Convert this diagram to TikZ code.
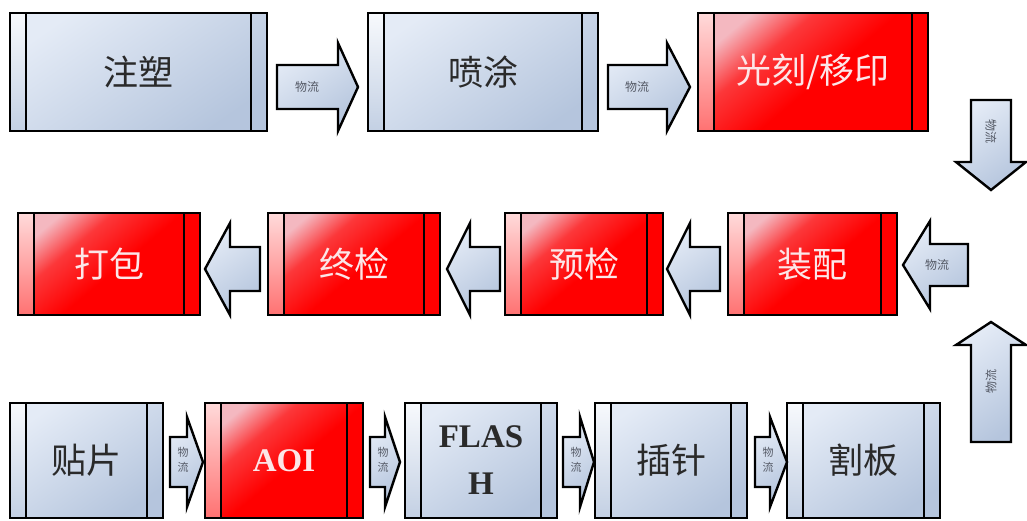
\documentclass[tikz,border=0pt]{standalone}
\usepackage{fontspec}
\newfontfamily\cjk{Noto Sans CJK SC}
\newfontfamily\tnr{Liberation Serif}
\definecolor{bluelt}{HTML}{E4EBF6}
\definecolor{bluedk}{HTML}{B5C5DD}
\definecolor{redlt}{HTML}{F4B8C0}
\definecolor{redtxt}{HTML}{FCE6E8}
\definecolor{darktxt}{HTML}{2A2A2A}
\definecolor{arrtxt}{HTML}{555A66}
\pgfdeclareverticalshading{redsh}{100bp}{color(0bp)=(red); color(25bp)=(red); color(47bp)=(red); color(63bp)=(red!70!redlt); color(75bp)=(redlt); color(100bp)=(redlt)}
\tikzset{
  ln/.style={line width=2.4pt, black},
  bluebox/.style={draw=black, line width=2.4pt, outer sep=0pt, inner sep=0pt,
     top color=bluelt, bottom color=bluedk, shading angle=35,
     font=\cjk\fontsize{35}{40}\selectfont, text=darktxt},
  redbox/.style={draw=black, line width=2.4pt, outer sep=0pt, inner sep=0pt,
     shade, shading=redsh, shading angle=40,
     font=\cjk\fontsize{35}{40}\selectfont, text=redtxt},
  bluebox strip/.style={top color=white!70!bluelt, bottom color=bluedk!80!white},
  redbox strip/.style={top color=red!15!white, bottom color=red!55!white},
  blockarrow/.style={draw=black, line width=2.4pt, line join=miter,
     top color=bluelt, bottom color=bluedk, shading angle=35},
  arrlabel/.style={font=\cjk\fontsize{12}{13}\selectfont, text=arrtxt, inner sep=0pt},
}
% process box: #1 name, #2 style, #3 x1, #4 y1, #5 x2, #6 y2, #7 text
\newcommand\pbox[7]{%
  \node[#2, minimum width={#5-#3}, minimum height={#6-#4}] (#1) at ({(#3+#5)/2},{(#4+#6)/2}) {#7};
  \path[#2 strip] ([shift={(1.2pt,-1.2pt)}]#1.north west) rectangle ([shift={(16pt,1.2pt)}]#1.south west);
  \draw[ln] ([xshift=16pt]#1.north west) -- ([xshift=16pt]#1.south west);
  \draw[ln] ([xshift=-16pt]#1.north east) -- ([xshift=-16pt]#1.south east);
}
% horizontal block arrow: #1 x-tail, #2 x-headbase, #3 x-tip, #4 yc, #5 body half, #6 head half
\newcommand\harrow[6]{%
  \path[blockarrow] (#1,{#4-#5}) -- (#2,{#4-#5}) -- (#2,{#4-#6}) -- (#3,#4)
     -- (#2,{#4+#6}) -- (#2,{#4+#5}) -- (#1,{#4+#5}) -- cycle;
}
% vertical block arrow: #1 y-tail, #2 y-headbase, #3 y-tip, #4 xc, #5 body half, #6 head half
\newcommand\varrow[6]{%
  \path[blockarrow] ({#4-#5},#1) -- ({#4-#5},#2) -- ({#4-#6},#2) -- (#4,#3)
     -- ({#4+#6},#2) -- ({#4+#5},#2) -- ({#4+#5},#1) -- cycle;
}
\begin{document}
\begin{tikzpicture}[x=1pt,y=-1pt]
\useasboundingbox (0,0) rectangle (1027,521);
\fill[white] (0,0) rectangle (1027,521);

% ---- row 1
\pbox{zs}{bluebox}{10}{13}{267}{131}{注塑}
\pbox{pt}{bluebox}{368}{13}{598}{131}{喷涂}
\pbox{gk}{redbox}{698}{13}{928}{131}{光刻/移印}
\harrow{277}{338}{358}{87}{22}{44}
\node[arrlabel] (l1) at (307,87) {物流};
\harrow{608}{667}{690}{87}{22}{44}
\node[arrlabel] (l2) at (637,87) {物流};

% ---- right side vertical arrows
\varrow{100}{162}{190}{991}{20}{35}
\node[arrlabel, rotate=-90] (l3) at (991,132) {物流};
\varrow{442}{345}{322}{991}{20}{35}
\node[arrlabel, rotate=90] (l4) at (991,381) {物流};

% ---- row 2
\pbox{db}{redbox}{18}{213}{200}{315}{打包}
\pbox{zj}{redbox}{268}{213}{440}{315}{终检}
\pbox{yj}{redbox}{505}{213}{663}{315}{预检}
\pbox{zp}{redbox}{728}{213}{897}{315}{装配}
\harrow{260}{230}{205}{269}{22}{46}
\harrow{500}{470}{447}{269}{22}{46}
\harrow{720}{690}{667}{269}{22}{46}
\harrow{968}{930}{903}{265}{21}{44}
\node[arrlabel] (l5) at (937,265) {物流};

% ---- row 3
\pbox{tp}{bluebox}{10}{403}{163}{518}{贴片}
\pbox{aoi}{redbox}{205}{403}{363}{518}{\tnr\bfseries\fontsize{33}{40}\selectfont AOI}
\pbox{fl}{bluebox}{405}{403}{557}{518}{}
\node[font=\tnr\bfseries\fontsize{33}{47}\selectfont, text=darktxt, align=center] (flt) at (fl.center) {FLAS\\H};
\pbox{cz}{bluebox}{595}{403}{747}{518}{插针}
\pbox{gb}{bluebox}{787}{403}{940}{518}{割板}
\harrow{170}{187}{203}{462}{25}{45}
\node[arrlabel, align=center, font=\cjk\fontsize{11}{15}\selectfont] (l6) at (183,460) {物\\流};
\harrow{370}{385}{400}{462}{25}{45}
\node[arrlabel, align=center, font=\cjk\fontsize{11}{15}\selectfont] (l7) at (383,460) {物\\流};
\harrow{563}{580}{594}{462}{25}{45}
\node[arrlabel, align=center, font=\cjk\fontsize{11}{15}\selectfont] (l8) at (576,460) {物\\流};
\harrow{755}{770}{787}{462}{25}{45}
\node[arrlabel, align=center, font=\cjk\fontsize{11}{15}\selectfont] (l9) at (768,460) {物\\流};
\end{tikzpicture}
\end{document}
